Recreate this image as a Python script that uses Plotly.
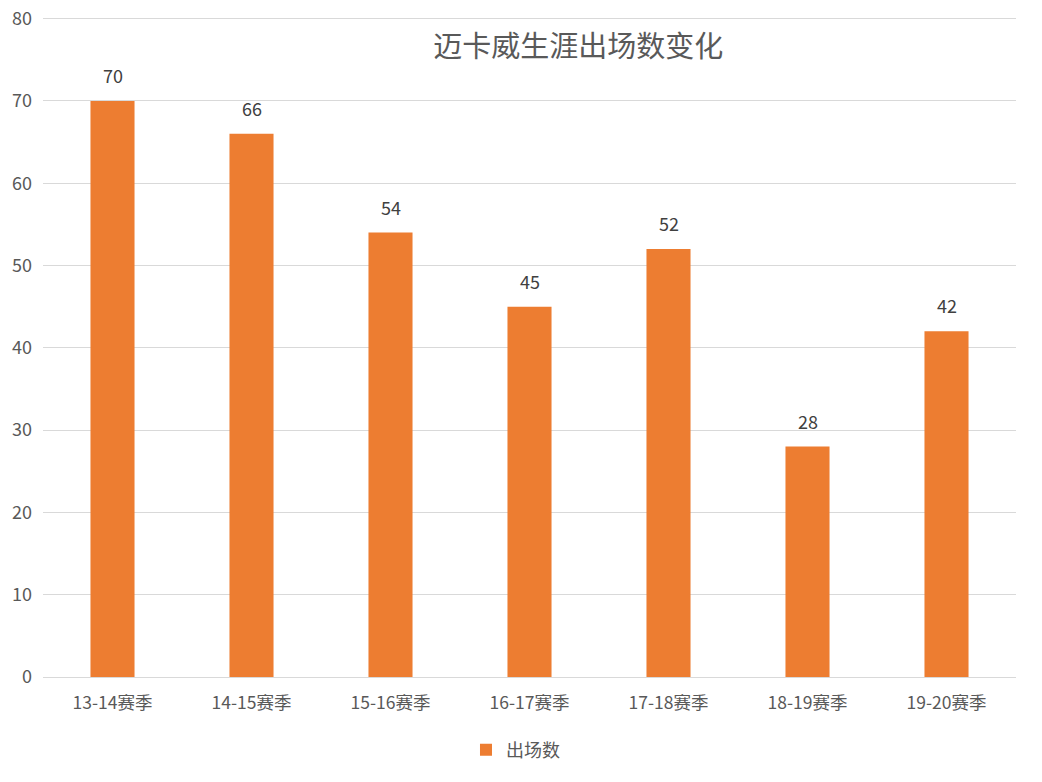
import plotly.graph_objects as go

categories = ["13-14赛季", "14-15赛季", "15-16赛季", "16-17赛季", "17-18赛季", "18-19赛季", "19-20赛季"]
appearances = [70, 66, 54, 45, 52, 28, 42]
series_name = "出场数"
title_text = "迈卡威生涯出场数变化"
y_ticks = [0, 10, 20, 30, 40, 50, 60, 70, 80]

FONT = "Noto Sans CJK SC"
BAR = "#ED7D31"

fig = go.Figure()
fig.add_trace(go.Bar(
    x=categories, y=appearances, name=series_name,
    marker=dict(color=BAR, line=dict(width=0)),
    showlegend=True,
))

for c, v in zip(categories, appearances):
    fig.add_annotation(x=c, y=v, text=str(v), showarrow=False,
                       yanchor="bottom", yshift=11,
                       font=dict(family=FONT, size=18, color="#404040"))

fig.update_layout(
    width=1042, height=782,
    margin=dict(l=43, r=26, t=17, b=105, autoexpand=False),
    paper_bgcolor="white", plot_bgcolor="white",
    bargap=0.683,
    font=dict(family=FONT, size=16, color="#595959"),
    title=dict(text=title_text, x=0.555, xanchor="center", xref="container",
               y=1 - 47 / 782, yanchor="middle",
               font=dict(family=FONT, size=29, color="#595959")),
    yaxis=dict(range=[0, 80.2], tickvals=y_ticks, showgrid=True, gridcolor="#D9D9D9",
               gridwidth=1, zeroline=False, showline=False, ticks="",
               automargin=False, ticklabelstandoff=10,
               tickfont=dict(family=FONT, size=18, color="#595959")),
    xaxis=dict(showgrid=False, showline=True, linecolor="#D9D9D9", linewidth=1,
               ticks="", automargin=False, ticklabelstandoff=10,
               tickfont=dict(family=FONT, size=17.5, color="#595959")),
    legend=dict(orientation="h", x=0.4856, xanchor="center", xref="paper",
                y=1 - 750 / 782, yanchor="middle", yref="container",
                font=dict(family=FONT, size=18, color="#595959"),
                itemwidth=30),
)

fig.write_html("out.html")
